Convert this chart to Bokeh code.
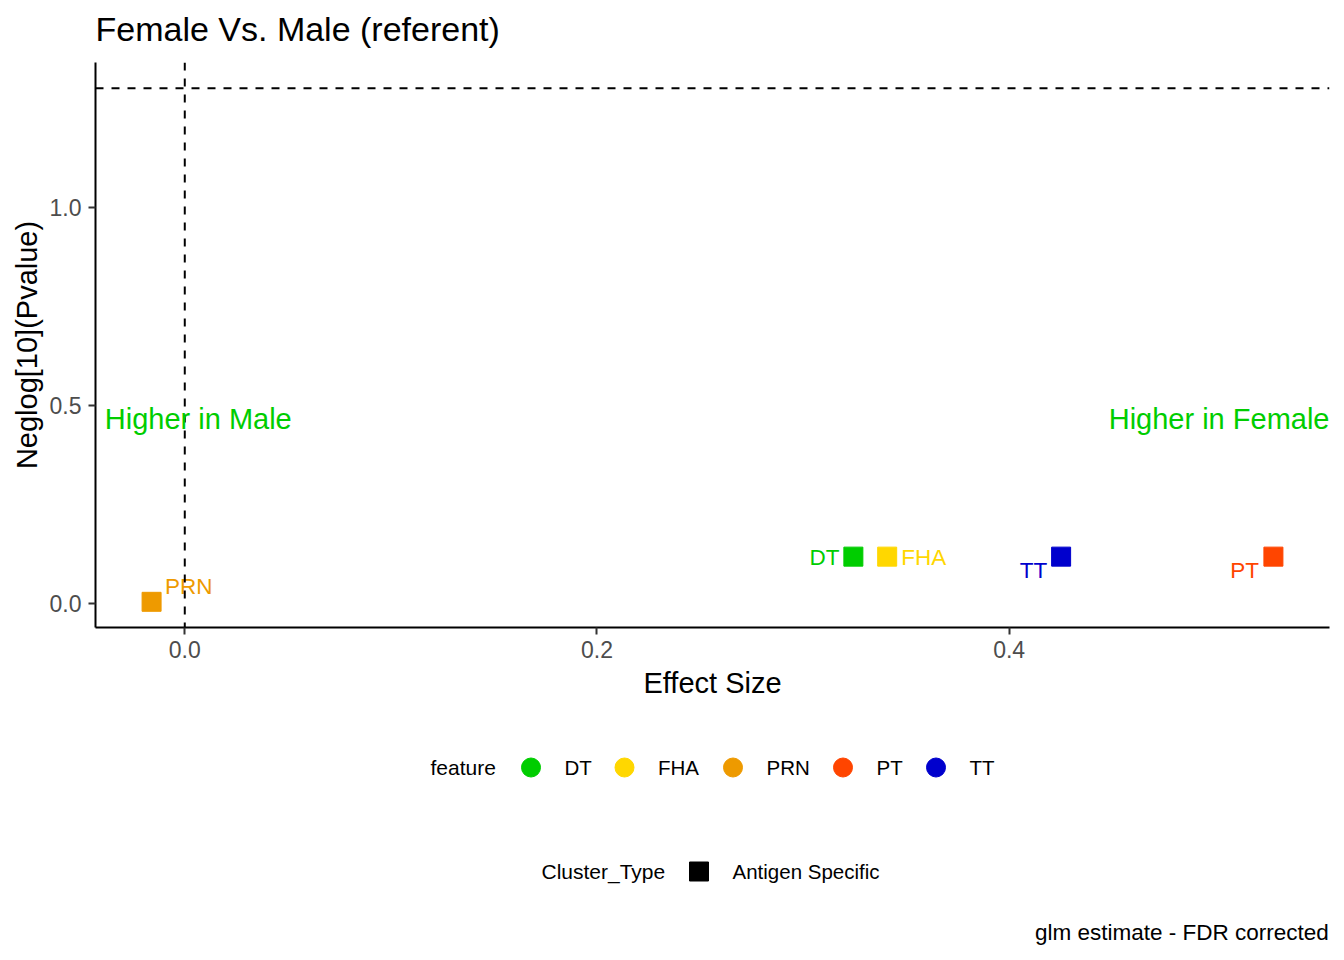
import math
from bokeh.plotting import figure
from bokeh.layouts import column
from bokeh.models import (ColumnDataSource, Range1d, Span, Label, FixedTicker,
                          PrintfTickFormatter)
from bokeh.core.properties import value
from bokeh.embed import file_html
from bokeh.resources import INLINE

# ---- data ----
features = ["DT", "FHA", "PRN", "PT", "TT"]
effect_size = [0.3244, 0.3408, -0.0161, 0.5282, 0.4252]
neglog_p = [0.119, 0.119, 0.005, 0.119, 0.119]
x_ticks = [0.0, 0.2, 0.4]
y_ticks = [0.0, 0.5, 1.0]
sig_line = -math.log10(0.05)
cluster_types = ["Antigen Specific"]

# ---- style / layout ----
FONT = "Liberation Sans"
colors = {"DT": "#00CD00", "FHA": "#FFD700", "PRN": "#EE9A00", "PT": "#FF4500", "TT": "#0000CD"}
# label placement (ggrepel-like), pixels: align, dx, dy
label_pos = {"DT": ("right", -14.0, 1.2), "FHA": ("left", 14.2, 1.2),
             "PRN": ("left", 13.5, -15.5), "PT": ("right", -14.5, 14.0),
             "TT": ("right", -13.8, 14.0)}

W = 1336
HT = 62        # title strip
HA = 648       # main plot
HB = 242       # legend / caption strip
FL, FR = 95, 1329          # frame left / right in page pixels


def strip(height, y0):
    f = figure(width=W, height=height, output_backend="svg", toolbar_location=None,
               x_range=Range1d(FL, FR), y_range=Range1d(y0 + height, y0),
               x_axis_type=None, y_axis_type=None,
               min_border_left=FL, min_border_right=W - FR, min_border_top=0,
               min_border_bottom=0, title=None)
    f.outline_line_color = None
    f.xgrid.visible = False
    f.ygrid.visible = False
    f.background_fill_color = "white"
    f.border_fill_color = "white"
    return f


def stext(f, x, y, text, size, align="left"):
    f.add_layout(Label(x=x, y=y, text=text, text_font=FONT, text_font_size=size,
                       text_align=align, text_baseline="middle", text_color="black"))


# ---- title strip (data coordinates equal page pixels) ----
t = strip(HT, 0)
stext(t, 95, 28.5, "Female Vs. Male (referent)", "34px")

# ---- main plot ----
xs_all = effect_size + [0.0]
ys_all = neglog_p + [sig_line]
xpad = 0.05 * (max(xs_all) - min(xs_all))
ypad = 0.05 * (max(ys_all) - min(ys_all))

p = figure(width=W, height=HA, output_backend="svg", toolbar_location=None,
           x_range=Range1d(min(xs_all) - xpad, max(xs_all) + xpad),
           y_range=Range1d(min(ys_all) - ypad, max(ys_all) + ypad),
           min_border_left=FL, min_border_right=W - FR, min_border_top=0,
           min_border_bottom=HT + HA - 627, title=None)
p.outline_line_color = None
p.xgrid.visible = False
p.ygrid.visible = False
p.background_fill_color = "white"
p.border_fill_color = "white"

for ax, ticks in ((p.xaxis, x_ticks), (p.yaxis, y_ticks)):
    ax.ticker = FixedTicker(ticks=ticks)
    ax.formatter = PrintfTickFormatter(format="%.1f")
    ax.axis_line_color = "black"
    ax.axis_line_width = 2
    ax.major_tick_line_color = "#333333"
    ax.major_tick_line_width = 2
    ax.major_tick_out = 7
    ax.major_tick_in = 0
    ax.minor_tick_line_color = None
    ax.major_label_text_font = FONT
    ax.major_label_text_font_size = "23px"
    ax.major_label_text_color = "#4D4D4D"
    ax.axis_label_text_font = FONT
    ax.axis_label_text_font_size = "29px"
    ax.axis_label_text_font_style = "normal"
    ax.axis_label_text_color = "black"
p.xaxis.major_label_standoff = 6
p.yaxis.major_label_standoff = 7
p.xaxis.axis_label = "Effect Size"
p.yaxis.axis_label = "Neglog[10](Pvalue)"
p.xaxis.axis_label_standoff = 6
p.yaxis.axis_label_standoff = 4

# reference lines
p.add_layout(Span(location=sig_line, dimension="width", line_color="black",
                  line_width=2, line_dash="8 8"))
p.add_layout(Span(location=0, dimension="height", line_color="black",
                  line_width=2, line_dash="8 8"))

# points
src = ColumnDataSource(dict(x=effect_size, y=neglog_p, f=features,
                            c=[colors[f] for f in features]))
p.scatter("x", "y", source=src, marker="square", size=19, fill_color="c", line_color="c")

# point labels
for align in ("left", "right"):
    idx = [i for i, f in enumerate(features) if label_pos[f][0] == align]
    s = ColumnDataSource(dict(
        x=[effect_size[i] for i in idx], y=[neglog_p[i] for i in idx],
        t=[features[i] for i in idx], c=[colors[features[i]] for i in idx],
        dx=[label_pos[features[i]][1] for i in idx], dy=[label_pos[features[i]][2] for i in idx]))
    p.text("x", "y", text="t", source=s, x_offset="dx", y_offset="dy", text_color="c",
           text_align=align, text_baseline="middle", text_font=value(FONT),
           text_font_size="22.5px")

# annotations inside panel
xr0, xr1 = p.x_range.start, p.x_range.end
p.add_layout(Label(x=xr0 + 0.0045, y=0.466, text="Higher in Male", text_color="#00CD00",
                   text_font=FONT, text_font_size="29px", text_align="left",
                   text_baseline="middle"))
p.add_layout(Label(x=xr1, y=0.466, text="Higher in Female", text_color="#00CD00",
                   text_font=FONT, text_font_size="29px", text_align="right",
                   text_baseline="middle"))

# ---- legend / caption strip ----
q = strip(HB, HT + HA)

# legend: feature (colour)
leg1_y = 767
leg1_key_x = [530.5, 624, 732.5, 842.5, 935.5]
stext(q, 430, leg1_y, "feature", "21px")
q.scatter(leg1_key_x, [leg1_y] * len(features), marker="circle", size=19,
          color=[colors[f] for f in features])
q.text([x + 33.5 for x in leg1_key_x], [leg1_y] * len(features), text=features,
       text_align="left", text_baseline="middle", text_font=value(FONT),
       text_font_size="20.5px", text_color="black")

# legend: Cluster_Type (shape)
leg2_y = 871
leg2_key_x = [698.5]
stext(q, 541, leg2_y, "Cluster_Type", "21px")
q.scatter(leg2_key_x, [leg2_y], marker="square", size=19, color="black")
q.text([x + 33.5 for x in leg2_key_x], [leg2_y], text=cluster_types,
       text_align="left", text_baseline="middle", text_font=value(FONT),
       text_font_size="20.5px", text_color="black")

# caption
stext(q, 1328.3, 932, "glm estimate - FDR corrected", "22.5px", align="right")

layout = column(t, p, q, spacing=0)
open("out.html", "w").write(file_html(layout, INLINE))
